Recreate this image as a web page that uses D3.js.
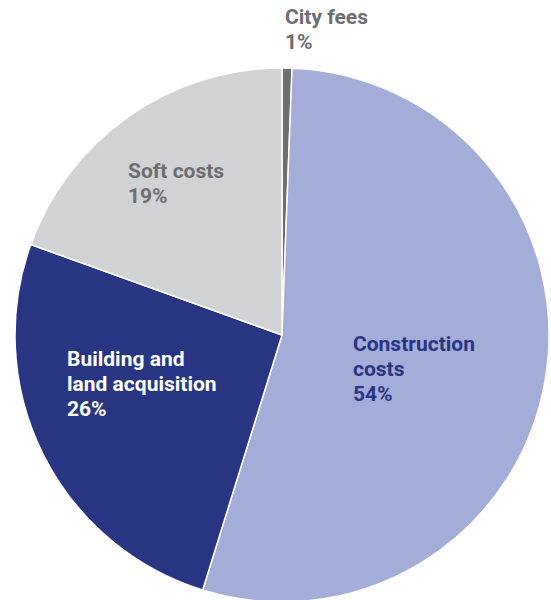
<!DOCTYPE html>
<html>
<head>
<meta charset="utf-8">
<script src="https://cdn.jsdelivr.net/npm/d3@7"></script>
<style>
  body { margin: 0; background: #fff; }
  svg text { font-family: Roboto, "Open Sans", sans-serif; font-weight: 700; font-size: 21px; }
</style>
</head>
<body>
<svg id="chart"></svg>
<script>
// pie of cost shares
var categories = ['City fees', 'Construction costs', 'Building and land acquisition', 'Soft costs'];
var shares = [0.6, 54.2, 25.7, 19.5];
var labelLines = [['City fees', '1%'], ['Construction', 'costs', '54%'], ['Building and', 'land acquisition', '26%'], ['Soft costs', '19%']];

var colors = ['#6d6e70', '#a4acd8', '#283583', '#d1d2d4'];
var textColors = ['#6d6e70', '#283583', '#ffffff', '#6d6e70'];
var labelPos = [[285, 24], [353, 351], [67, 366], [128, 178]];

var draw = function(){
    const width = 551, height = 600;
    const cx = 282, cy = 335, r = 267;

    var svg = d3.select('svg#chart')
    .attr('width', width)
    .attr('height', height);

    var pie = d3.pie().sort(null).value(function(d){ return d; });
    var arc = d3.arc().innerRadius(0).outerRadius(r);

    var g = svg.append('g')
    .attr('transform', 'translate(' + cx + ',' + cy + ')');

    g.selectAll('path')
    .data(pie(shares))
    .enter().append('path')
    .attr('d', arc)
    .attr('fill', function(d, i){ return colors[i]; })
    .attr('stroke', '#fff')
    .attr('stroke-width', 1.5)
    .attr('stroke-linejoin', 'round');

    var labels = svg.append('g').selectAll('text')
    .data(categories)
    .enter().append('text')
    .attr('x', function(d, i){ return labelPos[i][0]; })
    .attr('y', function(d, i){ return labelPos[i][1]; })
    .attr('fill', function(d, i){ return textColors[i]; });

    labels.each(function(d, i){
        var t = d3.select(this);
        labelLines[i].forEach(function(line, j){
            t.append('tspan')
            .attr('x', labelPos[i][0])
            .attr('dy', j === 0 ? 0 : 25)
            .text(line);
        });
    });
}

draw();
</script>
</body>
</html>
